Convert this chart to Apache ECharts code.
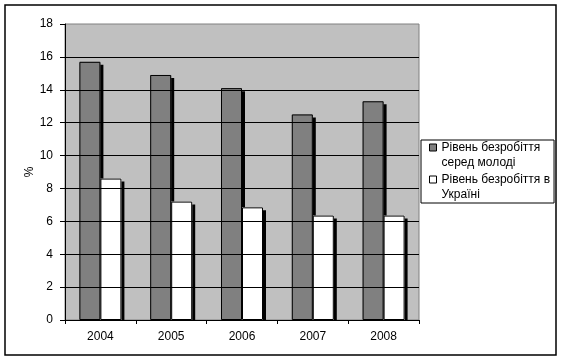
<!DOCTYPE html>
<html>
<head>
<meta charset="utf-8">
<script src="https://cdn.jsdelivr.net/npm/echarts@6/dist/echarts.min.js"></script>
<style>
html,body{margin:0;padding:0;background:#fff;}
#chart{width:562px;height:360px;}
</style>
</head>
<body>
<div id="chart"></div>
<script>
var categories = ['2004', '2005', '2006', '2007', '2008'];
var youthUnemployment = [15.7, 14.9, 14.1, 12.5, 13.3];
var ukraineUnemployment = [8.6, 7.2, 6.85, 6.35, 6.35];
var seriesNames = ['Рівень безробіття\nсеред молоді', 'Рівень безробіття в\nУкраїні'];
var yTicks = {min: 0, max: 18, interval: 2};

var font = 'Arial, "Liberation Sans", sans-serif';
var chart = echarts.init(document.getElementById('chart'), null, {renderer: 'canvas'});

function shadowBar(name, data, color) {
  return {
    name: name, type: 'bar', data: data, xAxisIndex: 0,
    barWidth: 21, barGap: '0%', z: 2,
    itemStyle: {color: color, borderWidth: 0, shadowColor: '#000', shadowBlur: 0, shadowOffsetX: 3, shadowOffsetY: 3}
  };
}
function outlineBar(name, data) {
  return {
    name: name, type: 'bar', data: data, xAxisIndex: 1,
    barWidth: 21, barGap: '0%', z: 3,
    itemStyle: {color: 'rgba(0,0,0,0)', borderColor: '#000', borderWidth: 1}
  };
}

var gridOpt = {left: 65, right: 143, top: 24, bottom: 40};

chart.setOption({
  animation: false,
  backgroundColor: '#fff',
  textStyle: {fontFamily: font},
  grid: {
    left: gridOpt.left, right: gridOpt.right, top: gridOpt.top, bottom: gridOpt.bottom,
    show: true,
    backgroundColor: '#c0c0c0',
    borderColor: '#808080',
    borderWidth: 1
  },
  legend: {
    orient: 'vertical',
    left: 421,
    top: 140,
    padding: [0, 4, 1, 8],
    itemGap: 2,
    itemWidth: 7,
    itemHeight: 22,
    itemTextGap: 4,
    icon: 'path://M0,0h7v7h-7zM0,22h0',
    symbolKeepAspect: true,
    borderColor: '#000',
    borderWidth: 1,
    backgroundColor: '#fff',
    borderRadius: 0,
    itemStyle: {borderColor: '#000', borderWidth: 1, shadowBlur: 0, shadowOffsetX: 0, shadowOffsetY: 0, shadowColor: 'rgba(0,0,0,0)'},
    textStyle: {fontSize: 12, fontFamily: font, color: '#000', lineHeight: 15},
    data: seriesNames
  },
  xAxis: [{
    type: 'category',
    data: categories,
    z: 5,
    axisLine: {lineStyle: {color: '#000', width: 1}},
    axisTick: {show: true, length: 4, lineStyle: {color: '#000'}},
    axisLabel: {color: '#000', fontSize: 12, fontFamily: font, margin: 11},
    splitLine: {show: false}
  }, {
    type: 'category',
    data: categories,
    show: false
  }],
  yAxis: {
    type: 'value',
    min: yTicks.min,
    max: yTicks.max,
    interval: yTicks.interval,
    name: '%',
    nameLocation: 'middle',
    nameRotate: 90,
    nameGap: 29,
    nameMoveOverlap: false,
    z: 5,
    nameTextStyle: {color: '#000', fontSize: 12, fontFamily: font},
    axisLine: {show: true, lineStyle: {color: '#000', width: 1}},
    axisTick: {show: true, length: 5, lineStyle: {color: '#000'}},
    axisLabel: {color: '#000', fontSize: 12, fontFamily: font, margin: 12},
    splitLine: {show: true, showMaxLine: false, lineStyle: {color: '#000', width: 1}}
  },
  series: [
    shadowBar(seriesNames[0], youthUnemployment, '#808080'),
    shadowBar(seriesNames[1], ukraineUnemployment, '#ffffff'),
    outlineBar(seriesNames[0], youthUnemployment),
    outlineBar(seriesNames[1], ukraineUnemployment)
  ]
});

// mask the bar shadows that spill below the category axis, and draw the outer frame
var baseY = chart.convertToPixel({yAxisIndex: 0}, 0);
var w = chart.getWidth(), h = chart.getHeight();
chart.setOption({
  graphic: [{
    type: 'rect', silent: true, z: 4,
    shape: {x: gridOpt.left, y: baseY + 0.5, width: w - gridOpt.left - gridOpt.right + 4, height: 6},
    style: {fill: '#fff'}
  }, {
    type: 'rect', silent: true, z: 100,
    shape: {x: 5, y: 5, width: w - 11, height: h - 10},
    style: {fill: 'none', stroke: '#000', lineWidth: 1.5}
  }]
});
</script>
</body>
</html>
